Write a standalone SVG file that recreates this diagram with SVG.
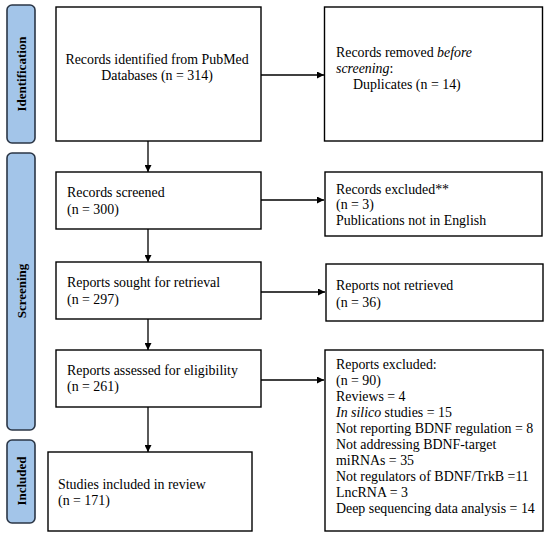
<svg xmlns="http://www.w3.org/2000/svg" width="550" height="538" viewBox="0 0 550 538">
<defs>
<marker id="ah" viewBox="0 0 10 10" refX="10" refY="5" markerWidth="8" markerHeight="7" markerUnits="userSpaceOnUse" orient="auto">
<path d="M0,0 L10,5 L0,10 z" fill="#000"/>
</marker>
<style>
.box{fill:#fff;stroke:#000;stroke-width:1.4}
.side{fill:#a3c5e9;stroke:#2b3646;stroke-width:1.6}
.t{font-family:"Liberation Serif","Times New Roman",serif;font-size:13.9px;fill:#000}
.s{font-family:"Liberation Serif","Times New Roman",serif;font-size:13px;font-weight:bold;fill:#000}
.c{stroke:#000;stroke-width:1.3;fill:none;marker-end:url(#ah)}
</style>
</defs>
<rect width="550" height="538" fill="#fff"/>
<g id="side-identification"><rect class="side" x="7" y="5" width="28" height="138" rx="5"/><text class="s" transform="translate(25.5,74) rotate(-90)" text-anchor="middle">Identification</text></g>
<g id="side-screening"><rect class="side" x="7" y="153" width="28" height="277" rx="5"/><text class="s" transform="translate(25.5,291) rotate(-90)" text-anchor="middle">Screening</text></g>
<g id="side-included"><rect class="side" x="7" y="440" width="28" height="83" rx="5"/><text class="s" transform="translate(25.5,481) rotate(-90)" text-anchor="middle">Included</text></g>

<g id="identified"><rect class="box" x="56" y="7" width="205" height="134"/><text class="t" text-anchor="middle"><tspan x="157" y="64">Records identified from PubMed</tspan><tspan x="157" y="80">Databases (n = 314)</tspan></text></g>
<g id="removed"><rect class="box" x="324.5" y="7" width="218" height="134"/><text class="t"><tspan x="336" y="57">Records removed <tspan font-style="italic">before</tspan></tspan><tspan x="336" y="73"><tspan font-style="italic">screening</tspan>:</tspan><tspan x="353" y="89">Duplicates  (n = 14)</tspan></text></g>
<g id="screened"><rect class="box" x="56" y="172" width="205" height="57"/><text class="t"><tspan x="67" y="197">Records screened</tspan><tspan x="67" y="214">(n = 300)</tspan></text></g>
<g id="excluded"><rect class="box" x="325" y="172" width="217" height="64"/><text class="t"><tspan x="336" y="194">Records excluded**</tspan><tspan x="336" y="209">(n = 3)</tspan><tspan x="336" y="225">Publications not in English</tspan></text></g>
<g id="sought"><rect class="box" x="56" y="262" width="205" height="57"/><text class="t"><tspan x="67" y="287">Reports sought for retrieval</tspan><tspan x="67" y="304">(n = 297)</tspan></text></g>
<g id="notretrieved"><rect class="box" x="326" y="264" width="217" height="57"/><text class="t"><tspan x="336" y="290">Reports not retrieved</tspan><tspan x="336" y="307">(n = 36)</tspan></text></g>
<g id="assessed"><rect class="box" x="56" y="350" width="205" height="57"/><text class="t"><tspan x="67" y="375">Reports assessed for eligibility</tspan><tspan x="67" y="391">(n = 261)</tspan></text></g>
<g id="reportsexcluded"><rect class="box" x="325" y="350" width="218" height="181"/><text class="t"><tspan x="336" y="369">Reports excluded:</tspan><tspan x="336" y="385">(n = 90)</tspan><tspan x="336" y="401">Reviews = 4</tspan><tspan x="336" y="417"><tspan font-style="italic">In silico</tspan> studies = 15</tspan><tspan x="336" y="433">Not reporting BDNF regulation = 8</tspan><tspan x="336" y="449">Not addressing BDNF-target</tspan><tspan x="336" y="465">miRNAs = 35</tspan><tspan x="336" y="481">Not regulators of BDNF/TrkB =11</tspan><tspan x="336" y="497">LncRNA = 3</tspan><tspan x="336" y="513">Deep sequencing data analysis = 14</tspan></text></g>
<g id="included"><rect class="box" x="48" y="452" width="204" height="79"/><text class="t"><tspan x="58" y="489">Studies included in review</tspan><tspan x="58" y="505">(n = 171)</tspan></text></g>

<g id="connectors">
<line class="c" x1="261" y1="75" x2="324" y2="75"/>
<line class="c" x1="261" y1="200" x2="324" y2="200"/>
<line class="c" x1="261" y1="292" x2="325" y2="292"/>
<line class="c" x1="261" y1="380" x2="324" y2="380"/>
<line class="c" x1="148" y1="141" x2="148" y2="172"/>
<line class="c" x1="148" y1="229" x2="148" y2="262"/>
<line class="c" x1="148" y1="319" x2="148" y2="350"/>
<line class="c" x1="148" y1="407" x2="148" y2="452"/>
</g>
</svg>
